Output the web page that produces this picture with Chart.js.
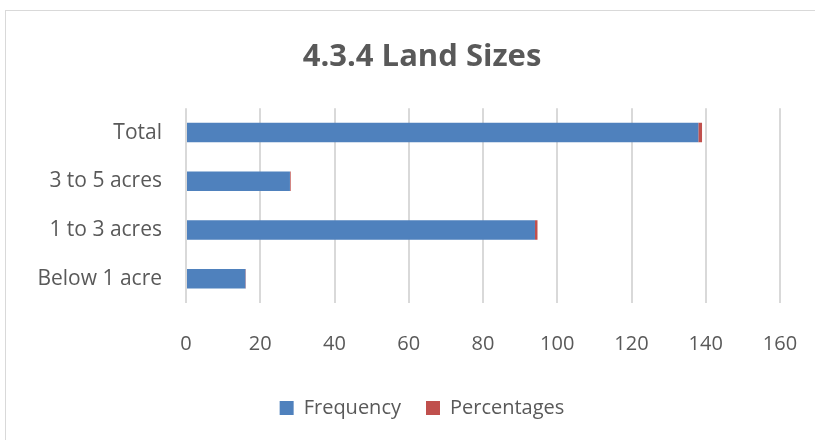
<!DOCTYPE html>
<html>
<head>
<meta charset="utf-8">
<script src="https://cdn.jsdelivr.net/npm/chart.js"></script>
<style>
  body { margin: 0; background: #fff; }
  #wrap { position: relative; width: 815px; height: 440px; overflow: hidden; }
  #frame { position: absolute; left: 5px; top: 10px; width: 840px; height: 460px; border: 1px solid #d9d9d9; }
  #landChart { position: absolute; left: 0; top: 0; }
</style>
</head>
<body>
<div id="wrap">
  <div id="frame"></div>
  <canvas id="landChart" width="815" height="440"></canvas>
</div>
<script>
//land size groups, top to bottom
var sizes = ["Total", "3 to 5 acres", "1 to 3 acres", "Below 1 acre"];
var frequency = [138, 28, 94, 16];
var percentages = [1, 0.2, 0.68, 0.12];
var xTicks = [0, 20, 40, 60, 80, 100, 120, 140, 160];

var textColor = "#595959";
var font = "'Open Sans', sans-serif";

new Chart("landChart", {
  type: "bar",
  data: {
    labels: sizes,
    datasets: [{
      label: "Frequency",
      backgroundColor: "#4f81bd",
      data: frequency,
      categoryPercentage: 1,
      barPercentage: 0.4
    }, {
      label: "Percentages",
      backgroundColor: "#c0504d",
      data: percentages,
      categoryPercentage: 1,
      barPercentage: 0.4
    }]
  },
  options: {
    indexAxis: "y",
    responsive: false,
    animation: false,
    layout: {
      padding: { left: 30, right: 1, top: 0, bottom: 12 }
    },
    scales: {
      x: {
        stacked: true,
        min: 0,
        max: 160,
        afterBuildTicks: function(scale) {
          scale.ticks = xTicks.map(function(v) { return { value: v }; });
        },
        afterFit: function(scale) {
          scale.height = 70;
          // the side strips already leave room for the end labels
          scale.paddingLeft = 0;
          scale.paddingRight = 0;
        },
        grid: { color: "#d9d9d9", lineWidth: 2, drawTicks: false },
        border: { display: false },
        ticks: { color: textColor, font: { family: font, size: 20 }, padding: 29 }
      },
      y: {
        stacked: true,
        afterFit: function(scale) { scale.width = 156; },
        grid: { display: false, drawTicks: false },
        border: { display: false },
        ticks: { color: textColor, font: { family: font, size: 21 }, padding: 24 }
      },
      // empty strip on the right so the last tick label has room
      yRight: {
        type: "category",
        position: "right",
        afterFit: function(scale) { scale.width = 34; },
        grid: { display: false, drawTicks: false },
        border: { display: false },
        ticks: { display: false }
      }
    },
    plugins: {
      title: {
        display: true,
        text: "4.3.4 Land Sizes",
        color: textColor,
        font: { family: font, size: 31, weight: "bold" },
        padding: { top: 39, bottom: 32 }
      },
      legend: {
        position: "bottom",
        labels: {
          color: textColor,
          font: { family: font, size: 20 },
          boxWidth: 14,
          boxHeight: 14,
          padding: 25
        }
      },
      tooltip: { enabled: false }
    }
  }
});
</script>
</body>
</html>
